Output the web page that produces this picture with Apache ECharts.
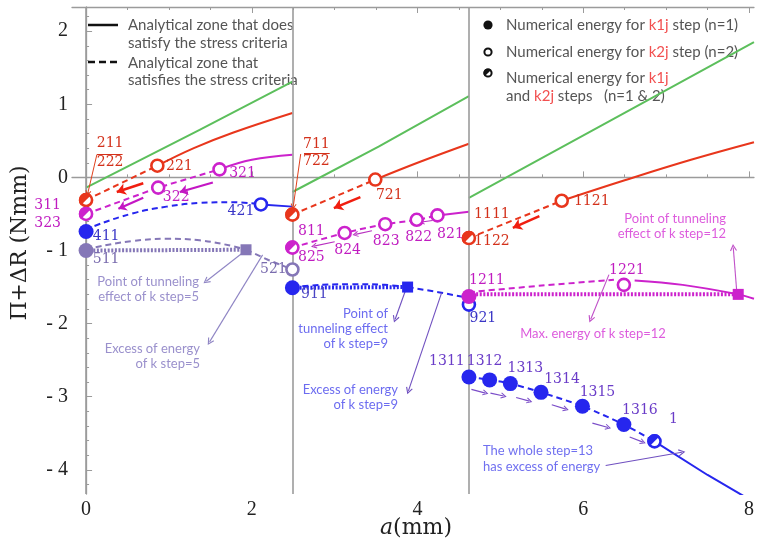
<!DOCTYPE html>
<html>
<head>
<meta charset="utf-8">
<script src="https://cdn.jsdelivr.net/npm/echarts@6/dist/echarts.min.js"></script>
<style>
  html, body { margin: 0; padding: 0; background: #fff; }
  #chart { width: 757px; height: 543px; }
</style>
</head>
<body>
<div id="chart"></div>
<script>
// ---------- axes ----------
const xMajor = [0, 2, 4, 6, 8];
const xMinor = [0, 0.5, 1, 1.5, 2, 2.5, 3, 3.5, 4, 4.5, 5, 5.5, 6, 6.5, 7, 7.5, 8];
const yMajor = [-4, -3, -2, -1, 0, 1, 2];
const yMinor = [-4.2, -4, -3.8, -3.6, -3.4, -3.2, -3, -2.8, -2.6, -2.4, -2.2, -2, -1.8, -1.6, -1.4, -1.2, -1,
  -0.8, -0.6, -0.4, -0.2, 0, 0.2, 0.4, 0.6, 0.8, 1, 1.2, 1.4, 1.6, 1.8, 2, 2.2];
const stepStarts = [0, 2.49, 4.62];           // crack length where each k step begins

// ---------- analytical curves: [a (mm), Π+ΔR (Nmm)] ----------
const green1 = [[0, -0.14], [1.37, 0.65], [2.49, 1.31]];
const green2 = [[2.49, -0.2], [3.53, 0.42], [4.62, 1.11]];
const green3 = [[4.62, -0.28], [6.3, 0.76], [8.06, 1.85]];

const redDash1 = [[0, -0.31], [0.86, 0.16]];
const redSolid1 = [[0.86, 0.16], [1.3, 0.4], [1.77, 0.61], [2.49, 0.88]];
const redDash2 = [[2.49, -0.51], [3.49, -0.03]];
const redSolid2 = [[3.49, -0.03], [4.0, 0.2], [4.62, 0.46]];
const redDash3 = [[4.62, -0.83], [5.74, -0.32]];
const redSolid3 = [[5.74, -0.32], [6.5, -0.04], [7.3, 0.24], [8.06, 0.48]];

const magDash1 = [[0, -0.5], [0.87, -0.14], [1.61, 0.11]];
const magSolid1 = [[1.61, 0.11], [2.0, 0.24], [2.49, 0.31]];
const magDash2 = [[2.49, -0.96], [3.12, -0.76], [3.61, -0.64], [3.99, -0.58], [4.24, -0.52]];
const magSolid2 = [[4.24, -0.52], [4.62, -0.47]];
const magDash3 = [[4.62, -1.57], [5.5, -1.48], [6.37, -1.4]];
const magSolid3 = [[6.62, -1.41], [7.2, -1.47], [7.87, -1.6], [8.06, -1.66]];
const magFlat3 = [[4.62, -1.6], [7.87, -1.6]];

const blueDash1 = [[0, -0.74], [0.09, -0.67], [0.57, -0.49], [0.97, -0.4], [1.37, -0.35], [1.77, -0.34], [2.11, -0.37]];
const blueSolid1 = [[2.11, -0.37], [2.49, -0.4]];
const blueDash2a = [[2.49, -1.51], [2.7, -1.48], [3.2, -1.46], [3.6, -1.47], [3.88, -1.5]];
const blueDash2b = [[3.88, -1.5], [4.25, -1.57], [4.62, -1.65]];
const blueFlat2 = [[2.49, -1.51], [3.88, -1.5]];
const blueDash3 = [[4.62, -2.73], [4.87, -2.77], [5.12, -2.82], [5.49, -2.94], [5.99, -3.13], [6.49, -3.38], [6.86, -3.61]];
const blueSolid3 = [[6.86, -3.61], [7.5, -4.07], [8.06, -4.44]];

const lavDashA = [[0, -1.0], [0.09, -0.96], [0.57, -0.87], [0.97, -0.84], [1.37, -0.86], [1.77, -0.94], [1.93, -0.99]];
const lavDashB = [[1.93, -0.99], [2.2, -1.13], [2.49, -1.26]];
const lavFlat = [[0, -1.0], [1.93, -0.99]];

// ---------- numerical energies: [a, Π+ΔR, step id] ----------
const redOpen = [[0.86, 0.16, '221'], [3.49, -0.03, '721'], [5.74, -0.32, '1121']];
const redHalf = [[0, -0.31, '211\n222'], [2.49, -0.51, '711\n722'], [4.62, -0.83, '1111\n1122']];
const magOpen = [[0.87, -0.14, '322'], [1.61, 0.11, '321'], [3.12, -0.76, '824'], [3.61, -0.64, '823'],
  [3.99, -0.58, '822'], [4.24, -0.52, '821'], [6.49, -1.47, '1221']];
const magHalf = [[0, -0.5, '311\n323'], [2.49, -0.96, '811\n825']];
const magFilled = [[4.62, -1.63, '1211']];
const blueFilled = [[0, -0.74, '411'], [2.49, -1.51, '911'], [4.62, -2.73, '1311'], [4.87, -2.77, '1312'],
  [5.12, -2.82, '1313'], [5.49, -2.94, '1314'], [5.99, -3.13, '1315'], [6.49, -3.38, '1316']];
const blueOpen = [[2.11, -0.37, '421'], [4.62, -1.74, '921']];
const blueHalf = [[6.86, -3.61, '1317']];
const lavFilled = [[0, -1.0, '511']];
const lavOpen = [[2.49, -1.26, '521']];

// tunneling points
const lavTunnel = [[1.93, -0.99]];
const blueTunnel = [[3.88, -1.5]];
const magTunnel = [[7.87, -1.6]];

// ---------- arrows: [x1, y1, x2, y2] ----------
const redArrows = [[0.69, -0.08, 0.37, -0.2], [3.31, -0.27, 2.99, -0.42], [5.47, -0.53, 5.15, -0.69]];
const magArrows = [[1.53, -0.07, 1.13, -0.2], [0.69, -0.28, 0.39, -0.43]];
const magSmallArrows = [[3.0, -0.88, 2.75, -0.94], [3.45, -0.73, 3.25, -0.78], [4.18, -0.59, 4.05, -0.61]];
const step13Arrows = [[4.65, -2.9, 4.82, -2.95], [4.88, -2.95, 5.04, -2.99], [5.19, -3.01, 5.35, -3.06],
  [5.62, -3.11, 5.79, -3.17], [6.11, -3.36, 6.3, -3.42], [6.56, -3.55, 6.72, -3.62]];
const lavNoteArrows = [[1.89, -1.03, 1.45, -1.42], [2.13, -1.06, 1.49, -2.25]];
const blueNoteArrows = [[3.85, -1.56, 3.73, -1.94], [4.29, -1.58, 3.89, -2.92], [6.27, -3.94, 7.19, -3.76]];
const magNoteArrows = [[7.85, -1.53, 7.81, -0.96], [6.31, -1.33, 6.09, -1.94]];
const redLeaders = [[0.13, 0.31, 0.02, -0.22], [2.59, 0.32, 2.5, -0.4]];
const redBars = [[0.13, 0.32, 0.44, 0.32], [2.63, 0.33, 2.94, 0.33]];
const magLeaders = [[-0.61, -0.49, -0.07, -0.5]];

// ---------- styling ----------
const GRAY = '#9b9b9b';
const C = { red: '#e8361c', mag: '#cc22cc', blue: '#2626ee', green: '#5cbf5c', lav: '#8577b7' };
const LC = { red: '#d3301a', mag: '#c01cc0', blue: '#3a36c6', lav: '#7a6cae', s13: '#6a3cc8' };
const DASH = [6, 4];
const DOT = [2, 1.6];
const SERIF = 'DejaVu Serif';
const SANS = 'Lato';
const CHEVRON = 'path://M0,9 L5,0 L10,9 L8.6,9.8 L5,3.2 L1.4,9.8 Z';

// label placement around each marker (pixel offsets)
const place = {
  '221': { o: [22, 1] }, '322': { o: [18, 10] }, '321': { o: [23, 4] }, '421': { o: [-20, 7] },
  '411': { o: [20, 5] }, '511': { o: [20, 9] }, '521': { o: [-19, 0] }, '721': { o: [14, 16] },
  '811\n825': { o: [19, -3], lh: 26.5 }, '824': { o: [3, 17] }, '823': { o: [1, 17] }, '822': { o: [2, 18] },
  '821': { o: [13, 19] }, '1111\n1122': { o: [23, -10], lh: 27 }, '1121': { o: [30, 1] },
  '911': { o: [22, 7], c: '#4a44c4' }, '1211': { o: [18, -16] }, '921': { o: [14, 14] }, '1221': { o: [3, -15] },
  '1311': { o: [-22, -16], c: LC.s13 }, '1312': { o: [-5, -19], c: LC.s13 }, '1313': { o: [15, -15], c: LC.s13 },
  '1314': { o: [21, -13], c: LC.s13 }, '1315': { o: [15, -14], c: LC.s13 }, '1316': { o: [16, -14], c: LC.s13 },
  '1317': { o: [19, -22], c: LC.s13, t: '1' },
  '211\n222': { o: [24, -47.5], lh: 19 }, '711\n722': { o: [24, -61.5], lh: 17 }, '311\n323': { o: [-38.5, 0], lh: 18 }
};

function curve(data, color, type, width, smooth) {
  return {
    type: 'line', data, symbol: 'none', showSymbol: false, smooth: smooth || false,
    z: 2, silent: true, animation: false,
    lineStyle: { color, width: width || 2, type: type || 'solid', cap: 'butt' }
  };
}

function labelFor(name, color) {
  const p = place[name];
  if (!p) return { show: false };
  return {
    show: true, position: 'inside', offset: p.o, formatter: p.t || name,
    color: p.c || color, fontFamily: SERIF, fontSize: 14, lineHeight: p.lh || 16,
    align: 'center', verticalAlign: 'middle'
  };
}

function markers(points, kind, color, labelColor, z) {
  const s = { type: 'scatter', z, silent: true, animation: false, clip: false };
  if (kind === 'filled') {
    s.symbol = 'circle'; s.symbolSize = 15; s.itemStyle = { color, opacity: 1 };
  } else if (kind === 'open') {
    s.symbol = 'circle'; s.symbolSize = 12; s.itemStyle = { color: '#fff', borderColor: color, borderWidth: 2.6, opacity: 1 };
  } else if (kind === 'square') {
    s.symbol = 'rect'; s.symbolSize = 11; s.itemStyle = { color, opacity: 1 };
  }
  s.data = points.map(p => ({
    value: [p[0], p[1]], name: p[2] || '',
    label: kind === 'square' ? { show: false } : labelFor(p[2], labelColor)
  }));
  return s;
}

// solid half (upper-left, split along the rising diagonal) laid over an open ring
function halfFill(points, color) {
  return {
    type: 'custom', z: 6, silent: true, animation: false, clip: false,
    data: points.map(p => [p[0], p[1]]),
    renderItem: (params, api) => {
      const c = api.coord([api.value(0), api.value(1)]);
      return {
        type: 'sector',
        shape: { cx: c[0], cy: c[1], r0: 0, r: 7.3, startAngle: Math.PI * 0.75, endAngle: Math.PI * 1.75, clockwise: true },
        style: { fill: color }
      };
    }
  };
}

function arrows(list, color, width, head, headSize) {
  return {
    type: 'line', data: [], silent: true, animation: false, clip: false, z: 4,
    markLine: {
      silent: true, animation: false, symbol: ['none', head], symbolSize: headSize,
      label: { show: false }, emphasis: { disabled: true },
      lineStyle: { color, width, type: 'solid', opacity: 1 },
      data: list.map(a => [{ coord: [a[0], a[1]] }, { coord: [a[2], a[3]] }])
    }
  };
}

const XMIN = -0.17, XMAX = 8.06, YMIN = -4.33, YMAX = 2.33;

function xAxisDef(position, ticks, len, labels, line) {
  return {
    type: 'value', min: XMIN, max: XMAX, position,
    axisLine: { show: line, lineStyle: { color: GRAY, width: 1.3 } },
    axisTick: { show: true, inside: true, length: len, customValues: ticks, lineStyle: { color: GRAY, width: 1 } },
    axisLabel: labels ? {
      show: true, customValues: xMajor, color: '#222', fontFamily: 'Liberation Serif', fontSize: 20, margin: 6
    } : { show: false },
    splitLine: { show: false }
  };
}
function yAxisDef(ticks, len, labels, line) {
  return {
    type: 'value', min: YMIN, max: YMAX, position: 'left',
    axisLine: { show: line, lineStyle: { color: GRAY, width: 1.3 } },
    axisTick: { show: true, inside: true, length: len, customValues: ticks, lineStyle: { color: GRAY, width: 1 } },
    axisLabel: labels ? {
      show: true, customValues: yMajor, color: '#222', fontFamily: 'Liberation Serif', fontSize: 20, margin: 4,
      formatter: v => (v < 0 ? '- ' + (-v) : String(v))
    } : { show: false },
    splitLine: { show: false }
  };
}

const series = [
  // step boundaries
  {
    type: 'line', data: [], silent: true, animation: false, z: 1,
    markLine: {
      silent: true, animation: false, symbol: ['none', 'none'], label: { show: false },
      lineStyle: { color: GRAY, width: 1.6, type: 'solid' },
      data: stepStarts.map(v => ({ xAxis: v }))
    }
  },
  curve(green1, C.green, 'solid', 2), curve(green2, C.green, 'solid', 2), curve(green3, C.green, 'solid', 2),
  curve(redDash1, C.red, DASH, 2), curve(redSolid1, C.red, 'solid', 2, 0.4),
  curve(redDash2, C.red, DASH, 2), curve(redSolid2, C.red, 'solid', 2, 0.4),
  curve(redDash3, C.red, DASH, 2), curve(redSolid3, C.red, 'solid', 2, 0.4),
  curve(magDash1, C.mag, DASH, 2), curve(magSolid1, C.mag, 'solid', 2, 0.4),
  curve(magDash2, C.mag, DASH, 2, 0.3), curve(magSolid2, C.mag, 'solid', 2),
  curve(magDash3, C.mag, DASH, 2, 0.4), curve(magSolid3, C.mag, 'solid', 2, 0.4),
  curve(magFlat3, C.mag, DOT, 4),
  curve(blueDash1, C.blue, DASH, 2, 0.4), curve(blueSolid1, C.blue, 'solid', 2),
  curve(blueDash2a, C.blue, DASH, 2, 0.4), curve(blueDash2b, C.blue, DASH, 2),
  curve(blueFlat2, C.blue, DOT, 4),
  curve(blueDash3, C.blue, DASH, 2, 0.3), curve(blueSolid3, C.blue, 'solid', 2),
  curve(lavDashA, C.lav, DASH, 2, 0.4), curve(lavDashB, C.lav, DASH, 2),
  curve(lavFlat, C.lav, DOT, 4),

  arrows(redArrows, '#f01e10', 2.5, 'arrow', 9),
  arrows(magArrows, '#c416c4', 2.2, 'arrow', 8),
  arrows(magSmallArrows, '#b830c0', 1.2, CHEVRON, 6),
  arrows(step13Arrows, '#7a4cc8', 1.2, CHEVRON, 6),
  arrows(lavNoteArrows, '#8f85c4', 1.1, CHEVRON, 7),
  arrows(blueNoteArrows, '#7050c0', 1.1, CHEVRON, 7),
  arrows(magNoteArrows, '#c050c8', 1.1, CHEVRON, 7),
  arrows(redLeaders, '#e0401c', 1, CHEVRON, 6),
  arrows(redBars, '#d3301a', 1, 'none', 0),
  arrows(magLeaders, '#c01cc0', 1.2, CHEVRON, 6),

  markers(lavTunnel, 'square', C.lav, LC.lav, 5),
  markers(blueTunnel, 'square', C.blue, LC.blue, 5),
  markers(magTunnel, 'square', C.mag, LC.mag, 5),

  markers(redOpen, 'open', C.red, LC.red, 5),
  markers(magOpen, 'open', C.mag, LC.mag, 5),
  markers(blueOpen, 'open', C.blue, LC.blue, 5),
  markers(lavOpen, 'open', C.lav, LC.lav, 5),

  markers(redHalf, 'open', C.red, LC.red, 5),
  markers(magHalf, 'open', C.mag, LC.mag, 5),
  markers(blueHalf, 'open', C.blue, LC.blue, 5),
  halfFill(redHalf, C.red),
  halfFill(magHalf, C.mag),
  halfFill(blueHalf, C.blue),

  markers(blueFilled, 'filled', C.blue, LC.blue, 7),
  markers(lavFilled, 'filled', C.lav, LC.lav, 7),
  markers(magFilled, 'filled', C.mag, LC.mag, 7)
];

const noteStyle = (text, x, y, align, color, lh) => ({
  type: 'text', x, y, silent: true,
  style: { text, fill: color, font: '13px ' + SANS, align, verticalAlign: 'top', lineHeight: lh || 15 }
});

const LEG = '15px ' + SANS;
const graphic = [
  // line-style key
  { type: 'line', shape: { x1: 88, y1: 25, x2: 118, y2: 25 }, style: { stroke: '#111', lineWidth: 2.5 }, silent: true },
  { type: 'line', shape: { x1: 88, y1: 62, x2: 118, y2: 62 }, style: { stroke: '#111', lineWidth: 2.5, lineDash: [7, 4] }, silent: true },
  { type: 'text', x: 128, y: 16, silent: true,
    style: { text: 'Analytical zone that does\nsatisfy the stress criteria', fill: '#555', font: LEG, lineHeight: 18, verticalAlign: 'top' } },
  { type: 'text', x: 128, y: 54, silent: true,
    style: { text: 'Analytical zone that\nsatisfies the stress criteria', fill: '#555', font: LEG, lineHeight: 17.5, verticalAlign: 'top' } },

  // marker key
  { type: 'circle', shape: { cx: 488, cy: 25, r: 4.6 }, style: { fill: '#111' }, silent: true },
  { type: 'circle', shape: { cx: 488, cy: 52, r: 3.6 }, style: { fill: '#fff', stroke: '#111', lineWidth: 2 }, silent: true },
  { type: 'circle', shape: { cx: 488, cy: 73, r: 3.6 }, style: { fill: '#fff', stroke: '#111', lineWidth: 2 }, silent: true },
  { type: 'sector', shape: { cx: 488, cy: 73, r0: 0, r: 4.6, startAngle: Math.PI * 0.75, endAngle: Math.PI * 1.75, clockwise: true },
    style: { fill: '#111' }, silent: true },
  { type: 'text', x: 506, y: 25, silent: true,
    style: { text: 'Numerical energy for {r|k1j} step (n=1)', fill: '#555', font: LEG, verticalAlign: 'middle',
      rich: { r: { fill: '#f25050', font: LEG } } } },
  { type: 'text', x: 506, y: 52, silent: true,
    style: { text: 'Numerical energy for {r|k2j} step (n=2)', fill: '#555', font: LEG, verticalAlign: 'middle',
      rich: { r: { fill: '#f25050', font: LEG } } } },
  { type: 'text', x: 506, y: 69, silent: true,
    style: { text: 'Numerical energy for {r|k1j}\nand {r|k2j} steps   (n=1 & 2)', fill: '#555', font: LEG,
      verticalAlign: 'top', lineHeight: 18, rich: { r: { fill: '#f25050', font: LEG, lineHeight: 18 } } } },

  // notes
  noteStyle('Point of tunneling\neffect of k step=5', 199, 274, 'right', '#9a90cc'),
  noteStyle('Excess of energy\nof k step=5', 200, 341, 'right', '#9a90cc'),
  noteStyle('Point of\ntunneling effect\nof k step=9', 388, 306, 'right', '#6c6cf0'),
  noteStyle('Excess of energy\nof k step=9', 398, 382.5, 'right', '#6c6cf0'),
  noteStyle('Point of tunneling\neffect of k step=12', 726, 211, 'right', '#dd5cdd'),
  noteStyle('Max. energy of k step=12', 593, 326, 'center', '#dd5cdd'),
  noteStyle('The whole step=13\nhas excess of energy', 483, 443, 'left', '#7070f0', 15.7),

  // axis titles
  { type: 'text', x: 20, y: 243, rotation: Math.PI / 2, silent: true,
    style: { text: 'Π+ΔR (Nmm)', fill: '#222', font: '22px "' + SERIF + '"', align: 'center', verticalAlign: 'middle' } },
  { type: 'text', x: 416, y: 528, silent: true,
    style: { text: '{i|a}(mm)', fill: '#222', font: '22px "' + SERIF + '"', align: 'center', verticalAlign: 'middle',
      rich: { i: { font: 'italic 22px "' + SERIF + '"', fill: '#222' } } } }
];

const chart = echarts.init(document.getElementById('chart'), null, { renderer: 'canvas', width: 757, height: 543 });
chart.setOption({
  animation: false,
  backgroundColor: '#fff',
  grid: { left: 72, right: 0, top: 7, bottom: 49, containLabel: false },
  xAxis: [
    xAxisDef('bottom', xMajor, 6, true, true),
    xAxisDef('bottom', xMinor, 3, false, false),
    xAxisDef('top', xMajor, 6, false, true),
    xAxisDef('top', xMinor, 3, false, false)
  ],
  yAxis: [
    yAxisDef(yMajor, 6, true, true),
    yAxisDef(yMinor, 3, false, false)
  ],
  series,
  graphic
});
</script>
</body>
</html>
